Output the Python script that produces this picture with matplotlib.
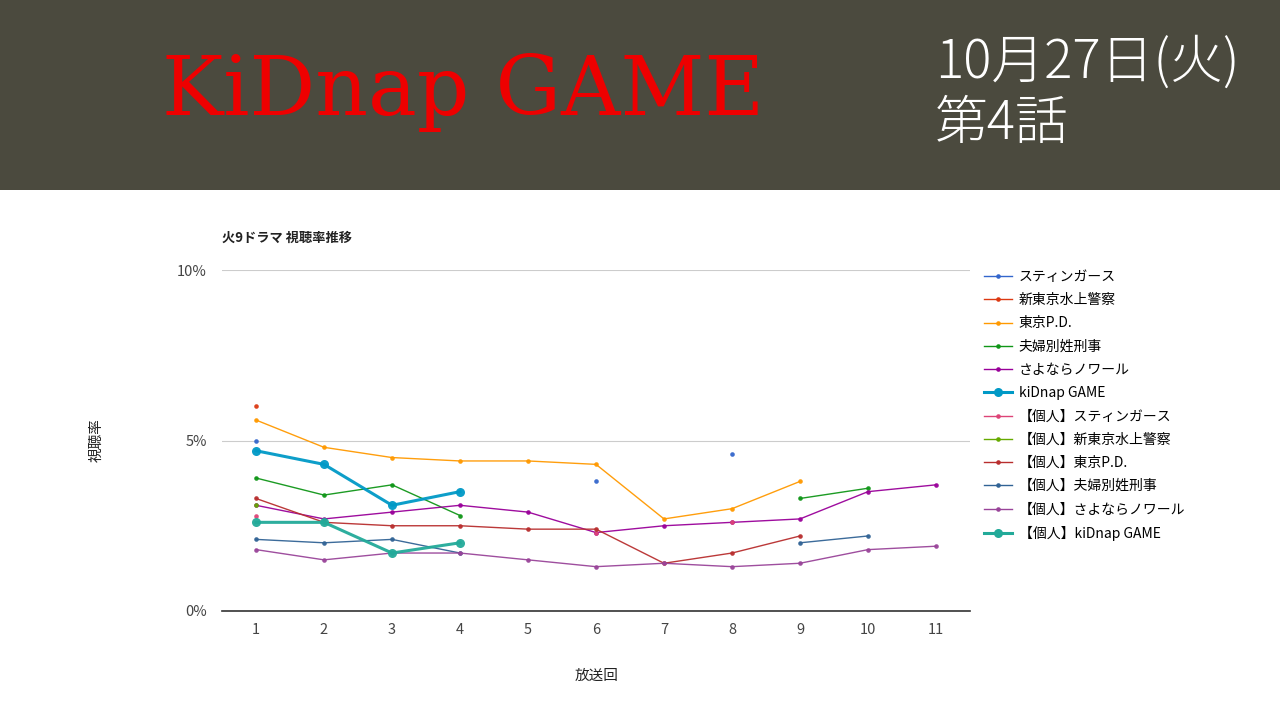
import numpy as np
import matplotlib
matplotlib.use("Agg")
import matplotlib.pyplot as plt
from matplotlib.lines import Line2D

plt.rcParams['font.family'] = ['Noto Sans CJK JP', 'DejaVu Sans']

nan = np.nan
episodes = list(range(1, 12))
series_names = [
    "スティンガース", "新東京水上警察", "東京P.D.", "夫婦別姓刑事", "さよならノワール", "kiDnap GAME",
    "【個人】スティンガース", "【個人】新東京水上警察", "【個人】東京P.D.", "【個人】夫婦別姓刑事",
    "【個人】さよならノワール", "【個人】kiDnap GAME",
]
stingers = [5.0, nan, nan, nan, nan, 3.8, nan, 4.6, nan, nan, nan]
shintokyo = [6.0, nan, nan, nan, nan, nan, nan, nan, nan, nan, nan]
tokyo_pd = [5.6, 4.8, 4.5, 4.4, 4.4, 4.3, 2.7, 3.0, 3.8, nan, nan]
fufu = [3.9, 3.4, 3.7, 2.8, nan, nan, nan, nan, 3.3, 3.6, nan]
noir = [3.1, 2.7, 2.9, 3.1, 2.9, 2.3, 2.5, 2.6, 2.7, 3.5, 3.7]
kidnap = [4.7, 4.3, 3.1, 3.5, nan, nan, nan, nan, nan, nan, nan]
p_stingers = [2.8, nan, nan, nan, nan, 2.3, nan, 2.6, nan, nan, nan]
p_shintokyo = [3.1, nan, nan, nan, nan, nan, nan, nan, nan, nan, nan]
p_tokyo_pd = [3.3, 2.6, 2.5, 2.5, 2.4, 2.4, 1.4, 1.7, 2.2, nan, nan]
p_fufu = [2.1, 2.0, 2.1, 1.7, nan, nan, nan, nan, 2.0, 2.2, nan]
p_noir = [1.8, 1.5, 1.7, 1.7, 1.5, 1.3, 1.4, 1.3, 1.4, 1.8, 1.9]
p_kidnap = [2.6, 2.6, 1.7, 2.0, nan, nan, nan, nan, nan, nan, nan]
all_series = [stingers, shintokyo, tokyo_pd, fufu, noir, kidnap,
              p_stingers, p_shintokyo, p_tokyo_pd, p_fufu, p_noir, p_kidnap]
colors = ["#3366cc", "#dc3912", "#ff9900", "#109618", "#990099", "#0099c6",
          "#dd4477", "#66aa00", "#b82e2e", "#316395", "#994499", "#22aa99"]
y_ticks = [0, 5, 10]
y_tick_labels = ["0%", "5%", "10%"]

W, H = 1280, 720
fig = plt.figure(figsize=(12.8, 7.2), dpi=100)
fig.patch.set_facecolor("white")

# Banner
banner = fig.add_axes([0, 1 - 190 / H, 1, 190 / H])
banner.set_facecolor("#4b4a3e")
banner.set_xticks([]); banner.set_yticks([])
for s in banner.spines.values():
    s.set_visible(False)

fig.text(162 / W, 1 - 92 / H, "KiDnap GAME", color="#ee0000", fontsize=59,
         family=["DejaVu Serif"], ha="left", va="center")
fig.text(935 / W, 1 - 63 / H, "10月27日(火)", color="white", fontsize=38,
         family=["Noto Sans CJK JP", "DejaVu Sans"], weight="light", ha="left", va="center")
fig.text(935 / W, 1 - 124 / H, "第4話", color="white", fontsize=38,
         family=["Noto Sans CJK JP", "DejaVu Sans"], weight="light", ha="left", va="center")

# Chart
x0, x1 = 222, 970
y_top, y_bot = 270, 611
ax = fig.add_axes([x0 / W, 1 - y_bot / H, (x1 - x0) / W, (y_bot - y_top) / H])
ax.set_xlim(0.5, 11.5)
ax.set_ylim(0, 10)

handles = []
for i, (name, vals, c) in enumerate(zip(series_names, all_series, colors)):
    big = name.endswith("kiDnap GAME")
    lw = 2.2 if big else 1.0
    ms = 6.5 if big else 3.3
    ax.plot(episodes, vals, color=c, lw=lw, marker="o", ms=ms, markeredgewidth=0,
            zorder=3 + (1 if big else 0), alpha=0.95)
    handles.append(Line2D([0], [0], color=c, lw=lw, marker="o", ms=ms, markeredgewidth=0))

ax.set_yticks(y_ticks)
ax.set_yticklabels(y_tick_labels)
ax.set_xticks(episodes)
ax.grid(axis="y", color="#cccccc", lw=0.8)
ax.set_axisbelow(True)
for s in ["top", "right", "left"]:
    ax.spines[s].set_visible(False)
ax.spines["bottom"].set_color("#333333")
ax.spines["bottom"].set_linewidth(1.2)
ax.tick_params(axis="both", length=0, labelsize=10.5, colors="#444444")
ax.tick_params(axis="y", pad=11)
ax.tick_params(axis="x", pad=9)

fig.text(222 / W, 1 - 238 / H, "火9ドラマ 視聴率推移", fontsize=9.5, weight="bold",
         color="#222222", ha="left", va="center")
fig.text(97 / W, 1 - 440 / H, "視聴率", fontsize=10.5, style="italic", rotation=90,
         color="#222222", ha="center", va="center")
fig.text(597 / W, 1 - 676 / H, "放送回", fontsize=10.5, style="italic",
         color="#222222", ha="center", va="center")

fig.legend(handles, series_names, loc="upper left",
           bbox_to_anchor=(984 / W, 1 - 270 / H), frameon=False,
           fontsize=10, handlelength=2.0, handletextpad=0.5,
           labelspacing=0.665, borderaxespad=0, borderpad=0)

fig.savefig("out.png", dpi=100, facecolor="white")
